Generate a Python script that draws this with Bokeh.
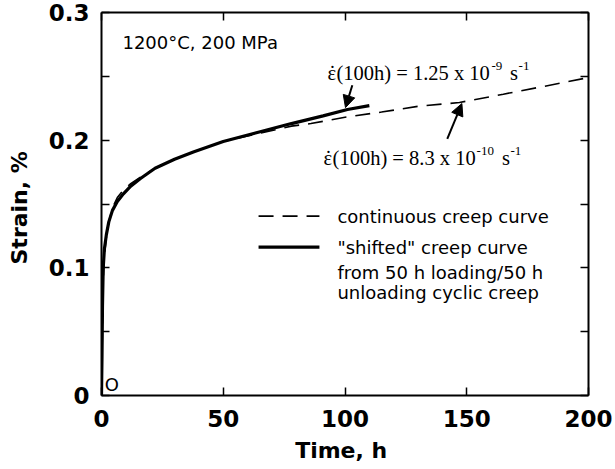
from bokeh.plotting import figure
from bokeh.models import (Range1d, LinearAxis, FixedTicker, Arrow, NormalHead, Label)
from bokeh.embed import file_html
from bokeh.resources import INLINE

# ---- data ----
t_shifted = [0, 0.2, 0.4, 0.7, 1.2, 2, 3, 4.5, 6.5, 9, 12, 16, 22, 30, 38, 50, 64, 78, 91, 101, 110]
s_shifted = [0, 0.03, 0.07, 0.10, 0.115, 0.126, 0.136, 0.145, 0.152, 0.158, 0.164, 0.170, 0.178,
             0.185, 0.191, 0.199, 0.206, 0.213, 0.219, 0.224, 0.227]

t_cont = [0, 0.3, 0.7, 1.2, 2, 3, 4.5, 6.5, 9, 12, 16, 22, 30, 38, 50, 64, 78, 86, 100, 115,
          130, 147, 165, 180, 200]
s_cont = [0, 0.04, 0.09, 0.11, 0.124, 0.136, 0.147, 0.155, 0.161, 0.166, 0.171, 0.178, 0.185,
          0.191, 0.199, 0.205, 0.211, 0.213, 0.218, 0.222, 0.2265, 0.2295, 0.236, 0.2415, 0.249]

x_ticks = [0, 50, 100, 150, 200]
y_ticks = [0, 0.1, 0.2, 0.3]
y_minor = [0.05, 0.15, 0.25]
y_tick_labels = {0: "0", 0.1: "0.1", 0.2: "0.2", 0.3: "0.3"}

condition_label = "1200\u00b0C, 200 MPa"
# rate annotations: (base text, exponent of 10, anchor x, anchor y)
rate_shifted = ("(100h) = 1.25 x 10", "-9", 92.8, 0.253)
rate_cont = ("(100h) = 8.3 x 10", "-10", 91.2, 0.1864)
legend_cont = "continuous creep curve"
legend_shift = ['"shifted" creep curve', "from 50 h loading/50 h", "unloading cyclic creep"]

FONT = "DejaVu Sans"
SERIF = "Liberation Serif"

p = figure(width=615, height=469, output_backend="svg", toolbar_location=None,
           x_range=Range1d(0, 200), y_range=Range1d(0, 0.3),
           min_border_left=101, min_border_right=27, min_border_top=12, min_border_bottom=74)
p.outline_line_color = None
p.xgrid.visible = False
p.ygrid.visible = False

def style_axis(ax, show_labels):
    ax.axis_line_width = 2
    ax.axis_line_color = "black"
    ax.major_tick_in = 8
    ax.major_tick_out = 0
    ax.minor_tick_in = 8
    ax.minor_tick_out = 0
    ax.major_tick_line_width = 1.5
    ax.minor_tick_line_width = 1.5
    ax.major_label_text_font = FONT
    ax.major_label_text_font_style = "bold"
    ax.major_label_text_font_size = "23px" if show_labels else "0px"
    ax.major_label_text_color = "black" if show_labels else None
    ax.axis_label_text_color = "black"

xa = p.xaxis[0]
xa.ticker = FixedTicker(ticks=x_ticks)
style_axis(xa, True)
xa.major_label_standoff = 14
xa.axis_label = "Time,  h"
xa.axis_label_text_font = FONT
xa.axis_label_text_font_style = "bold"
xa.axis_label_text_font_size = "22px"
xa.axis_label_standoff = 8

ya = p.yaxis[0]
ya.ticker = FixedTicker(ticks=y_ticks, minor_ticks=y_minor)
ya.major_label_overrides = y_tick_labels
style_axis(ya, True)
ya.major_label_standoff = 12
ya.axis_label = "Strain,  %"
ya.axis_label_text_font = FONT
ya.axis_label_text_font_style = "bold"
ya.axis_label_text_font_size = "22px"
ya.axis_label_standoff = 14

top = LinearAxis(ticker=FixedTicker(ticks=x_ticks))
style_axis(top, False)
top.major_label_standoff = 0
p.add_layout(top, "above")
right = LinearAxis(ticker=FixedTicker(ticks=y_ticks, minor_ticks=y_minor))
style_axis(right, False)
right.major_label_standoff = 0
p.add_layout(right, "right")

# curves
p.line(t_cont, s_cont, line_color="black", line_width=1.6, line_dash="15 9")
p.line(t_shifted, s_shifted, line_color="black", line_width=3.2)

# legend (manual)
leg_x = [64.5, 89.5]
leg_text_x = 96.9
leg_y = [0.1405, 0.1162, 0.0966, 0.0809]
p.line(leg_x, [leg_y[0]] * 2, line_color="black", line_width=1.6, line_dash="15 9")
p.line(leg_x, [leg_y[1]] * 2, line_color="black", line_width=3.2)
p.add_layout(Label(x=leg_text_x, y=leg_y[0], text=legend_cont, text_font=FONT,
                   text_font_size="18px", text_baseline="middle", text_color="black"))
for yy, tx in zip(leg_y[1:], legend_shift):
    p.add_layout(Label(x=leg_text_x, y=yy, text=tx, text_font=FONT,
                       text_font_size="18px", text_baseline="middle", text_color="black"))

# annotations
p.add_layout(Label(x=8.6, y=0.2765, text=condition_label, text_font=FONT,
                   text_font_size="18px", text_baseline="middle", text_color="black"))

def rate_label(base, expo, x, y, base_px):
    fs = 20.5
    kw = dict(x=x, y=y, text_font=SERIF, text_baseline="middle", text_color="black")
    p.add_layout(Label(text="\u03b5", text_font_size=f"{fs}px", **kw))
    p.add_layout(Label(x_offset=1.5, y_offset=0, text="\u02d9", text_font_size=f"{fs}px", **kw))
    p.add_layout(Label(x_offset=9, text=base, text_font_size=f"{fs}px", **kw))
    off = 9 + base_px
    p.add_layout(Label(x_offset=off + 1, y_offset=7, text=expo, text_font_size="13px", **kw))
    off += 1 + len(expo) * 6.8 + 5
    p.add_layout(Label(x_offset=off, text="s", text_font_size=f"{fs}px", **kw))
    off += 8.5
    p.add_layout(Label(x_offset=off, y_offset=7, text="-1", text_font_size="13px", **kw))

rate_label(rate_shifted[0], rate_shifted[1], rate_shifted[2], rate_shifted[3], 154)
rate_label(rate_cont[0], rate_cont[1], rate_cont[2], rate_cont[3], 143)

p.add_layout(Label(x=4.2, y=0.0086, text="O", text_font=FONT, text_color="black",
                   text_font_size="18px", text_baseline="middle", text_align="center"))

# arrows
arrow_tail = [(103.0, 0.243), (142.0, 0.201)]
arrow_head = [(100.2, 0.2255), (148.0, 0.2287)]
for (x0, y0), (x1, y1) in zip(arrow_tail, arrow_head):
    p.add_layout(Arrow(x_start=x0, y_start=y0, x_end=x1, y_end=y1, line_width=2,
                       end=NormalHead(size=12, fill_color="black", line_color="black")))

open("out.html", "w").write(file_html(p, INLINE))
